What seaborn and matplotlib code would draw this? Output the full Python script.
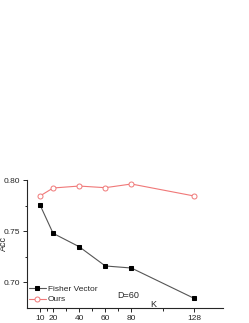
import matplotlib
matplotlib.use("Agg")
import matplotlib.pyplot as plt
import numpy as np
import pandas as pd
import seaborn as sns

# data
k_values = [10, 20, 40, 60, 80, 128]
fisher_acc = [0.7756, 0.7479, 0.7348, 0.7160, 0.7140, 0.6844]
ours_acc = [0.7844, 0.7922, 0.7941, 0.7925, 0.7961, 0.7844]
x_major = [10, 20, 40, 60, 80, 128]
x_minor = [15, 30, 50, 70, 104]
y_major = [0.70, 0.75, 0.80]
y_minor = [0.725, 0.775]

df = pd.DataFrame({
    "K": k_values * 2,
    "Acc": fisher_acc + ours_acc,
    "method": ["Fisher Vector"] * len(k_values) + ["Ours"] * len(k_values),
})

sns.set_style("ticks")
plt.rcParams['font.family'] = ['Liberation Sans', 'DejaVu Sans']

fig = plt.figure(figsize=(2.49, 3.23), dpi=100)
ax = fig.add_axes([0.1084, 0.0467, 0.786, 0.396])

sns.lineplot(data=df[df.method == "Fisher Vector"], x="K", y="Acc", ax=ax,
             color="#555555", lw=0.8, marker="s", markersize=3,
             markerfacecolor="black", markeredgecolor="black",
             label="Fisher Vector")
sns.lineplot(data=df[df.method == "Ours"], x="K", y="Acc", ax=ax,
             color="#f07878", lw=0.8, marker="o", markersize=3.6,
             markerfacecolor="white", markeredgecolor="#f07878",
             markeredgewidth=0.7, label="Ours")

ax.set_xlim(0, 150)
ax.set_ylim(0.675, 0.80)
ax.set_xticks(x_major)
ax.set_xticks(x_minor, minor=True)
ax.set_yticks(y_major)
ax.set_yticklabels(["0.70", "0.75", "0.80"])
ax.set_yticks(y_minor, minor=True)
ax.tick_params(axis="both", which="major", labelsize=6, length=3, width=0.7, pad=2)
ax.tick_params(axis="both", which="minor", length=1.8, width=0.7)

sns.despine(ax=ax)
for s in ["left", "bottom"]:
    ax.spines[s].set_linewidth(0.8)

ax.set_xlabel("")
ax.set_ylabel("Acc", fontsize=6.5)
ax.yaxis.set_label_coords(-0.097, 0.5)
ax.text(96.9, 0.6788, "K", fontsize=6.5, ha="center", va="center")
ax.text(77.6, 0.6876, "D=60", fontsize=6.5, ha="center", va="center")

ax.legend(loc="lower left", bbox_to_anchor=(0.01, 0.035), frameon=False,
          fontsize=6, handlelength=2.0, handletextpad=0.3,
          labelspacing=0.35, borderaxespad=0, borderpad=0)

fig.savefig("out.png", dpi=100)
